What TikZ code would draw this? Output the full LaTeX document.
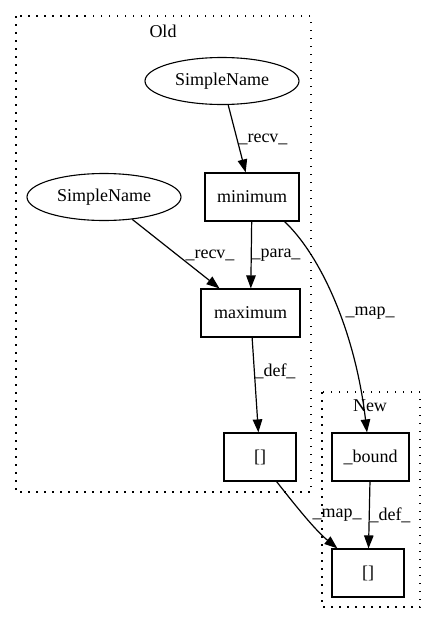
\documentclass[tikz,border=0pt]{standalone}
\usepackage{fontspec}
\setmainfont{Liberation Serif}
\usetikzlibrary{arrows.meta,shapes.geometric}
\begin{document}
\begin{tikzpicture}[x=1pt,y=-1pt,
  every node/.style={font=\fontsize{18}{20}\selectfont},
  box/.style={draw,line width=1.2pt,rectangle,inner sep=0pt},
  ell/.style={draw,line width=1.1pt,ellipse,inner sep=0pt,minimum width=154pt,minimum height=47pt},
  cluster/.style={draw,line width=1.3pt,dash pattern=on 1.5pt off 6.5pt},
  edge/.style={draw,line width=1.2pt,-{Triangle[length=13pt,width=9.5pt]}},
  lbl/.style={inner sep=0pt}]
\useasboundingbox (0,0) rectangle (436,624);
% clusters
\draw[cluster] (16,16) rectangle (311,492);
\draw[cluster] (322,392) rectangle (420,607);
\node[lbl] (oldlbl) at (163,31) {Old};
\node[lbl] (newlbl) at (370,406) {New};
% nodes
\node[ell] (sn1) at (222,81) {SimpleName};
\node[ell] (sn2) at (104,197) {SimpleName};
\node[box,minimum width=94pt,minimum height=48pt] (min) at (252,197) {minimum};
\node[box,minimum width=99pt,minimum height=48pt] (max) at (250.5,313) {maximum};
\node[box,minimum width=72pt,minimum height=48pt] (oldb) at (260,457) {[]};
\node[box,minimum width=77pt,minimum height=48pt] (bound) at (370.5,457) {\_bound};
\node[box,minimum width=72pt,minimum height=48pt] (newb) at (368,573) {[]};
% edges
\draw[edge] (sn1) -- (min);
\draw[edge] (sn2) -- (max);
\draw[edge] (min) -- (max);
\draw[edge] (max) -- (oldb);
\draw[edge] (bound) -- (newb);
\draw[edge] ([xshift=-15pt]min.south east) .. controls (320,255) and (355,330) .. ([xshift=-3.5pt]bound.north);
\draw[edge] ([xshift=-20pt]oldb.south east) .. controls (295,505) and (315,530) .. ([xshift=6pt]newb.north west);
% labels
\node[lbl] (l1) at (263,139) {\_recv\_};
\node[lbl] (l2) at (210,255) {\_recv\_};
\node[lbl] (l3) at (276,255) {\_para\_};
\node[lbl] (l4) at (370,313) {\_map\_};
\node[lbl] (l5) at (275,371) {\_def\_};
\node[lbl] (l6) at (337,515) {\_map\_};
\node[lbl] (l7) at (390,515) {\_def\_};
\end{tikzpicture}
\end{document}
